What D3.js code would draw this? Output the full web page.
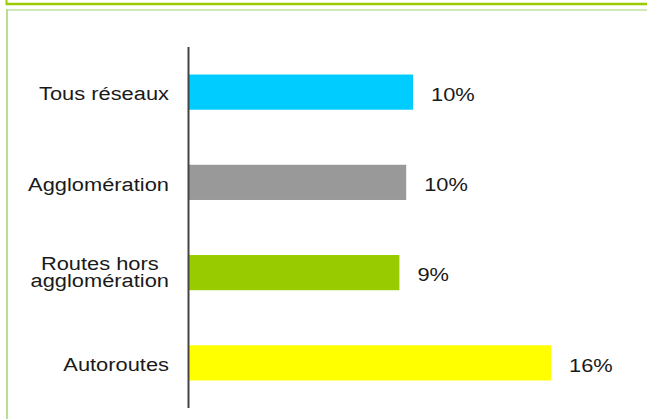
<!DOCTYPE html>
<html><head><meta charset="utf-8">
<script src="https://cdn.jsdelivr.net/npm/d3@7"></script>
<style>html,body{margin:0;padding:0;background:#fff;}svg{display:block;}</style>
</head><body>
<svg id="c" width="647" height="419"></svg>
<script>
const categories = [["Tous réseaux"], ["Agglomération"], ["Routes hors", "agglomération"], ["Autoroutes"]];
const values = [9.9, 9.6, 9.3, 16.0];
const colors = ["#00CCFF", "#999999", "#99CC00", "#FFFF00"];

const svg = d3.select("#c");
// frames
svg.append("line").attr("x1", 6).attr("x2", 647).attr("y1", 4).attr("y2", 4).attr("stroke", "#99CC00").attr("stroke-width", 2.5);
svg.append("line").attr("x1", 6.5).attr("x2", 6.5).attr("y1", 0).attr("y2", 5).attr("stroke", "#99CC00").attr("stroke-width", 2);
svg.append("line").attr("x1", 6).attr("x2", 647).attr("y1", 10).attr("y2", 10).attr("stroke", "#cfe8b8").attr("stroke-width", 2);
svg.append("line").attr("x1", 7).attr("x2", 7).attr("y1", 9).attr("y2", 419).attr("stroke", "#b8e090").attr("stroke-width", 2);

const keys = categories.map(c => c.join(" "));
const x = d3.scaleLinear().domain([0, 16]).range([189, 551]);
const y = d3.scaleBand().domain(keys).range([47, 408]).paddingInner(0.61).paddingOuter(0.305);

svg.selectAll("rect.bar").data(values).join("rect")
  .attr("class", "bar")
  .attr("x", x(0)).attr("y", (d, i) => y(keys[i]))
  .attr("width", d => x(d) - x(0)).attr("height", y.bandwidth())
  .attr("fill", (d, i) => colors[i]);

const FS = 19, SX = 1.15, LH = 17;
const fmt = d3.format(".0f");
svg.selectAll("text.val").data(values).join("text")
  .attr("class", "val")
  .attr("transform", (d, i) => `translate(${x(d) + 18},${y(keys[i]) + y.bandwidth() / 2 + 2}) scale(${SX},1)`)
  .attr("dy", "0.35em")
  .attr("font-family", "Liberation Sans, Arial, sans-serif").attr("font-size", FS).attr("fill", "#1a1a1a")
  .text(d => fmt(d) + "%");

const lab = svg.selectAll("g.cat").data(categories).join("g")
  .attr("class", "cat");
lab.each(function(d, i) {
  const g = d3.select(this);
  const n = d.length;
  const cy = y(keys[i]) + y.bandwidth() / 2 + (n > 1 ? -1 : 1.5);
  const texts = d.map((line, j) => g.append("text")
    .attr("font-family", "Liberation Sans, Arial, sans-serif").attr("font-size", FS).attr("fill", "#1a1a1a")
    .attr("dy", "0.35em").text(line));
  const widths = texts.map(t => t.node().getComputedTextLength() * SX);
  const maxW = d3.max(widths);
  const cx = 169 - maxW / 2;
  texts.forEach((t, j) => {
    t.attr("text-anchor", "middle")
     .attr("transform", `translate(${cx},${cy + (j - (n - 1) / 2) * LH}) scale(${SX},1)`);
  });
});

// axis
svg.append("line").attr("x1", x(0) - 0.5).attr("x2", x(0) - 0.5).attr("y1", 47).attr("y2", 408)
  .attr("stroke", "#444").attr("stroke-width", 2);
</script>
</body></html>
